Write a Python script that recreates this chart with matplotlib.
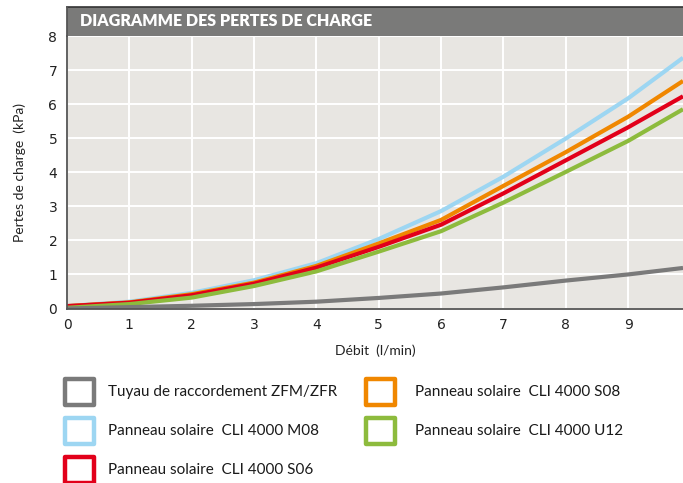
import matplotlib
matplotlib.use("Agg")
import matplotlib.pyplot as plt
from matplotlib.patches import Rectangle

# ---- data ----
debit = [0, 1, 2, 3, 4, 5, 6, 7, 8, 9, 9.88]
tuyau_zfm = [0.0, 0.04, 0.08, 0.13, 0.2, 0.31, 0.44, 0.62, 0.82, 1.0, 1.19]
cli_m08 = [0.07, 0.2, 0.46, 0.83, 1.33, 2.04, 2.86, 3.87, 4.99, 6.17, 7.36]
cli_s08 = [0.07, 0.18, 0.42, 0.76, 1.25, 1.91, 2.60, 3.60, 4.59, 5.63, 6.68]
cli_s06 = [0.07, 0.17, 0.39, 0.73, 1.2, 1.81, 2.46, 3.38, 4.35, 5.32, 6.23]
cli_u12 = [0.02, 0.13, 0.32, 0.66, 1.09, 1.67, 2.27, 3.11, 4.01, 4.92, 5.85]

labels = ["Tuyau de raccordement ZFM/ZFR",
          "Panneau solaire  CLI 4000 M08",
          "Panneau solaire  CLI 4000 S06",
          "Panneau solaire  CLI 4000 S08",
          "Panneau solaire  CLI 4000 U12"]
x_ticks = [0, 1, 2, 3, 4, 5, 6, 7, 8, 9]
y_ticks = [0, 1, 2, 3, 4, 5, 6, 7, 8]
title = "DIAGRAMME DES PERTES DE CHARGE"
xlabel = "Débit  (l/min)"
ylabel = "Pertes de charge  (kPa)"

c_gray = "#7a7a7a"
c_blue = "#9dd6f2"
c_orange = "#f08700"
c_red = "#e2001a"
c_green = "#8dbb3d"

plt.rcParams["font.family"] = ["DejaVu Sans"]
TXT = ["Lato", "DejaVu Sans"]

W, H = 683, 483
fig = plt.figure(figsize=(W / 100, H / 100), dpi=100)
fig.patch.set_facecolor("white")

def fx(px):
    return px / W

def fy(py):
    return 1 - py / H

ax_l, ax_r, ax_t, ax_b = 67, 683, 36, 308.5
ax = fig.add_axes([fx(ax_l), fy(ax_b), fx(ax_r - ax_l), (ax_b - ax_t) / H])
ax.set_facecolor("#e8e6e2")
ax.set_xlim(0, 9.88)
ax.set_ylim(0, 8)
ax.set_xticks(x_ticks)
ax.set_yticks(y_ticks)
ax.grid(True, color="white", linewidth=1.4)
ax.set_axisbelow(True)
for s in ["top", "right"]:
    ax.spines[s].set_visible(False)
for s in ["left", "bottom"]:
    ax.spines[s].set_color("#555555")
    ax.spines[s].set_linewidth(1.3)
ax.tick_params(length=0, labelsize=10, pad=7, colors="#222222")

lw = 3.0
ax.plot(debit, cli_m08, color=c_blue, lw=lw, solid_capstyle="butt")
ax.plot(debit, cli_s08, color=c_orange, lw=lw, solid_capstyle="butt")
ax.plot(debit, cli_s06, color=c_red, lw=lw, solid_capstyle="butt")
ax.plot(debit, cli_u12, color=c_green, lw=lw, solid_capstyle="butt")
ax.plot(debit, tuyau_zfm, color=c_gray, lw=lw, solid_capstyle="butt")

ax.set_xlabel(xlabel, fontsize=10, labelpad=9, color="#222222", family=TXT)
ax.set_ylabel(ylabel, fontsize=10, labelpad=16, color="#222222", family=TXT)

# title band
band = Rectangle((fx(67), fy(35.5)), fx(683 - 67), (35.5 - 6.5) / H,
                 transform=fig.transFigure, facecolor="#7a7a79",
                 edgecolor="none")
fig.add_artist(band)
fig.add_artist(plt.Line2D([fx(67), 1], [fy(7), fy(7)], transform=fig.transFigure,
                          color="#333333", lw=1.2))
fig.add_artist(plt.Line2D([fx(67), fx(67)], [fy(7), fy(36)], transform=fig.transFigure,
                          color="#555555", lw=1.3))
fig.text(fx(80), fy(21.5), title, color="white", fontsize=11.5, fontweight="heavy",
         va="center", ha="left", family=TXT)

# legend
colors = [c_gray, c_blue, c_red, c_orange, c_green]
pos = [(63, 377), (63, 416), (63, 455), (364, 377), (364, 416)]
text_x = [108, 108, 108, 415, 415]
for (px, py), col, lab, tx in zip(pos, colors, labels, text_x):
    r = Rectangle((fx(px + 2), fy(py + 28)), fx(29), 26 / H,
                  transform=fig.transFigure, facecolor="white",
                  edgecolor=col, linewidth=3.2, joinstyle="round")
    fig.add_artist(r)
    fig.text(fx(tx), fy(py + 15), lab, fontsize=11, va="center", ha="left",
             color="#1a1a1a", family=TXT)

fig.savefig("out.png", dpi=100)
